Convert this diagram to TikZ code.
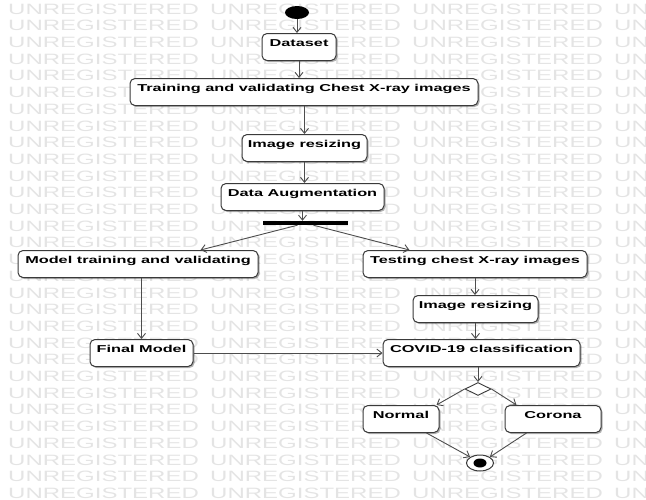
\documentclass[tikz,border=0pt]{standalone}
\usepackage{fontspec}
\usetikzlibrary{arrows.meta,shapes.geometric,shadows,calc}
\newfontfamily\boxfont{Liberation Sans}[FakeStretch=1.63]
\newfontfamily\markfont{Liberation Sans}[FakeStretch=1.6]
\definecolor{edge}{HTML}{4D4D4D}
\definecolor{frame}{HTML}{3A3A3A}
\definecolor{mark}{HTML}{E4E4E4}

\begin{document}
\begin{tikzpicture}[x=1pt,y=-1pt,
  act/.style={draw=frame, line width=1pt, rounded corners=5pt, fill=white,
    drop shadow={shadow xshift=1.5pt, shadow yshift=-1.5pt, opacity=0.3, fill=black},
    anchor=north, inner xsep=0pt, inner ysep=4.5pt, text height=8pt, text depth=10pt,
    font=\boxfont\bfseries\fontsize{10}{12}\selectfont},
  flow/.style={draw=edge, line width=0.9pt, -{Straight Barb[length=5pt,width=8pt]}},
  wm/.style={anchor=west, text=mark, inner sep=0pt, font=\markfont\fontsize{15}{15}\selectfont}
]
\useasboundingbox (0,0) rectangle (646,499);

% background lettering
\begin{scope}
  \clip (0,0) rectangle (646,499);
  \foreach \r in {0,...,29} {
    \foreach \c in {0,...,3} {
      \node[wm] (wm-\r-\c) at ({8+202*\c}, {9+16.7*\r}) {UNREGISTERED};
    }
  }
\end{scope}

% activities
\node[fill=black, ellipse, minimum width=24pt, minimum height=13pt, inner sep=0pt] (start) at (297,12.5) {};
\node[act, minimum width=74pt] (dataset) at (299,33) {Dataset};
\node[act, minimum width=348pt] (train) at (304,78) {Training and validating Chest X-ray images};
\node[act, minimum width=125pt] (resizeA) at (304.5,134) {Image resizing};
\node[act, minimum width=163pt] (augment) at (302.5,183) {Data Augmentation};
\node[fill=black, minimum width=85pt, minimum height=4pt, inner sep=0pt] (fork) at (305.5,223) {};
\node[act, minimum width=240pt] (model) at (138,250) {Model training and validating};
\node[act, minimum width=224pt] (testing) at (475,250) {Testing chest X-ray images};
\node[act, minimum width=125pt] (resizeB) at (475.5,295) {Image resizing};
\node[act, minimum width=103pt] (final) at (141.5,339) {Final Model};
\node[act, minimum width=197pt] (covid) at (481.5,339) {COVID-19 classification};
\node[diamond, draw=frame, line width=0.9pt, fill=white, minimum width=26pt, minimum height=13pt, inner sep=0pt] (decide) at (478,389) {};
\node[act, minimum width=76pt] (normal) at (401,405) {Normal};
\node[act, minimum width=96pt] (corona) at (553,405) {Corona};
\node[ellipse, draw=frame, line width=1pt, fill=white, minimum width=27pt, minimum height=16pt, inner sep=0pt] (finish) at (480,463) {};
\node[ellipse, fill=black, minimum width=13pt, minimum height=9pt, inner sep=0pt] (finishdot) at (finish) {};

% control flow
\draw[flow] (start.south) -- (start.south |- dataset.north);
\draw[flow] (dataset.south) -- (dataset.south |- train.north);
\draw[flow] (resizeA.north |- train.south) -- (resizeA.north);
\draw[flow] (resizeA.south) -- (resizeA.south |- augment.north);
\draw[flow] (augment.south) -- (augment.south |- fork.north);
\draw[flow] ($(fork.south)+(-8,0)$) -- ($(model.north east)+(-58,0)$);
\draw[flow] ($(fork.south)+(8,0)$) -- ($(testing.north west)+(47,0)$);
\draw[flow] (testing.south) -- (testing.south |- resizeB.north);
\draw[flow] (resizeB.south) -- (resizeB.south |- covid.north);
\draw[flow] (final.north |- model.south) -- (final.north);
\draw[flow] (final.east) -- (covid.west);
\draw[flow] (decide.north |- covid.south) -- (decide.north);
\draw[flow] (decide.west) -- ($(normal.north east)+(-3,0)$);
\draw[flow] (decide.east) -- ($(corona.north west)+(12,0)$);
\draw[flow] ($(normal.south east)+(-13,0)$) -- (finish.north west);
\draw[flow] ($(corona.south west)+(22,0)$) -- (finish.north east);
\end{tikzpicture}
\end{document}
